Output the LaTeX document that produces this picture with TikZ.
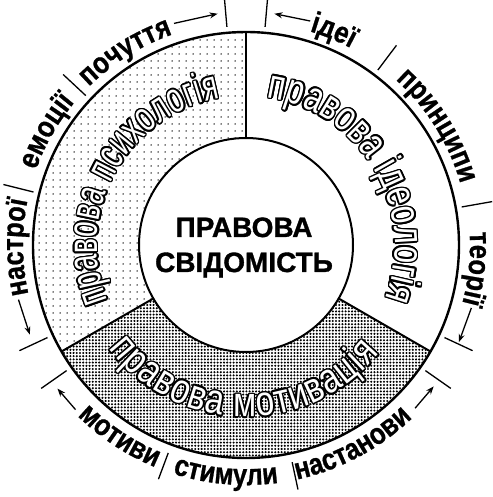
\documentclass[tikz,border=0pt]{standalone}
\usepackage{fontspec}
\setmainfont{Liberation Sans}
\newfontfamily\secfontL{Liberation Sans}[FakeStretch=0.67]
\newfontfamily\secfontR{Liberation Sans}[FakeStretch=0.75]
\newfontfamily\secfontB{Liberation Sans}[FakeStretch=0.8]
\newfontfamily\labfont{Liberation Sans}[FakeStretch=0.85,FakeBold=0.8]
\newfontfamily\cenfont{Liberation Sans}[FakeBold=1.2]
\usetikzlibrary{decorations.text,patterns.meta,arrows.meta}
\newcommand\secL{\secfontL\fontsize{42pt}{44pt}\selectfont}
\newcommand\secR{\secfontR\fontsize{42pt}{44pt}\selectfont}
\newcommand\secB{\secfontB\fontsize{42pt}{44pt}\selectfont}
\newcommand\labsty{\labfont\bfseries\fontsize{30pt}{32pt}\selectfont}
\newcommand\ringlabel[2]{%
  \foreach \ang in {0,22.5,...,337.5}{%
    \path[ringtext={#1}{black}, shift={(\ang:1.5pt)}] #2;}%
  \path[ringtext={#1}{white}] #2;%
}
\begin{document}
\begin{tikzpicture}[
  x=1pt,y=1pt,
  divline/.style={line width=2pt},
  tickline/.style={line width=1.3pt},
  arrowline/.style={line width=1.3pt, -{Stealth[length=8pt,width=6pt]}},
  ringtext/.style 2 args={decorate, decoration={text along path, text={#1}, text align={fit to path}, text color=#2}},
  outtext/.style={decorate, decoration={text along path, text={#1}, text align={center}, text color=black}},
]
\useasboundingbox (-246pt,-252pt) rectangle (246pt,245pt);
\coordinate (O) at (0,0);

% sectors
\path[pattern={Dots[distance=6.5pt,radius=0.8pt]}]
  (90:213pt) arc[start angle=90,end angle=210,radius=213pt]
  -- (210:107pt) arc[start angle=210,end angle=90,radius=107pt] -- cycle;
\path[pattern={Dots[distance=3.2pt,radius=1.15pt]}]
  (210:213pt) arc[start angle=210,end angle=330,radius=213pt]
  -- (330:107pt) arc[start angle=330,end angle=210,radius=107pt] -- cycle;

% sector labels (outlined)
\ringlabel{|\secL|правова психологія}{(202:149pt) arc[start angle=202,end angle=100,radius=149pt]}
\ringlabel{|\secR|правова ідеологія}{(82:149pt) arc[start angle=82,end angle=-21,radius=149pt]}
\ringlabel{|\secB|правова мотивація}{(217:172pt) arc[start angle=217,end angle=321,radius=172pt]}

% circles
\draw[line width=2.4pt] (O) circle[radius=213pt];
\draw[line width=2pt, fill=white] (O) circle[radius=107pt];

% dividers
\coordinate (d1i) at (90:107pt);  \coordinate (d1o) at (90:213pt);
\coordinate (d2i) at (210:107pt); \coordinate (d2o) at (210:213pt);
\coordinate (d3i) at (330:107pt); \coordinate (d3o) at (330:213pt);
\draw[divline] (d1i) -- (d1o);
\draw[divline] (d2i) -- (d2o);
\draw[divline] (d3i) -- (d3o);

% outer labels
\path[outtext={|\labsty|почуття}] (147:223pt) arc[start angle=147,end angle=97,radius=223pt];
\path[outtext={|\labsty|емоції}] (175.3:223pt) arc[start angle=175.3,end angle=125.3,radius=223pt];
\path[outtext={|\labsty|настрої}] (205.6:223pt) arc[start angle=205.6,end angle=155.6,radius=223pt];
\path[outtext={|\labsty|ідеї}] (92.7:223pt) arc[start angle=92.7,end angle=42.7,radius=223pt];
\path[outtext={|\labsty|принципи}] (56.9:223pt) arc[start angle=56.9,end angle=6.9,radius=223pt];
\path[outtext={|\labsty|теорії}] (19.1:224pt) arc[start angle=19.1,end angle=-30.9,radius=224pt];
\path[outtext={|\labsty|мотиви}] (211.6:240pt) arc[start angle=211.6,end angle=261.6,radius=240pt];
\path[outtext={|\labsty|стимули}] (240:240pt) arc[start angle=240,end angle=290,radius=240pt];
\path[outtext={|\labsty|настанови}] (273.1:240pt) arc[start angle=273.1,end angle=323.1,radius=240pt];

% ticks
\foreach \t in {95,137,166,205,215,325,335,10,53,85}
  \draw[tickline] (\t:219pt) -- (\t:250pt);
\foreach \t in {249.5,282}
  \draw[tickline] (\t:222pt) -- (\t:250pt);

% arrows
\coordinate (a1s) at (108:233pt);   \coordinate (a1e) at (97:233pt);
\coordinate (a2s) at (74:233pt);    \coordinate (a2e) at (83:233pt);
\coordinate (a3s) at (193.5:234pt); \coordinate (a3e) at (202.5:234pt);
\coordinate (a4s) at (344.4:234pt); \coordinate (a4e) at (335.5:234pt);
\coordinate (a5s) at (224:237pt);   \coordinate (a5e) at (217.3:237pt);
\coordinate (a6s) at (316:235pt);   \coordinate (a6e) at (323:235pt);
\draw[arrowline] (a1s) -- (a1e);
\draw[arrowline] (a2s) -- (a2e);
\draw[arrowline] (a3s) -- (a3e);
\draw[arrowline] (a4s) -- (a4e);
\draw[arrowline] (a5s) -- (a5e);
\draw[arrowline] (a6s) -- (a6e);

% centre text
\node[font=\cenfont\bfseries\fontsize{28pt}{30pt}\selectfont, anchor=base, inner sep=0pt] (t1) at (-2pt,8pt) {ПРАВОВА};
\node[font=\cenfont\bfseries\fontsize{28pt}{30pt}\selectfont, anchor=base, inner sep=0pt] (t2) at (-2pt,-27pt) {СВІДОМІСТЬ};
\end{tikzpicture}
\end{document}
